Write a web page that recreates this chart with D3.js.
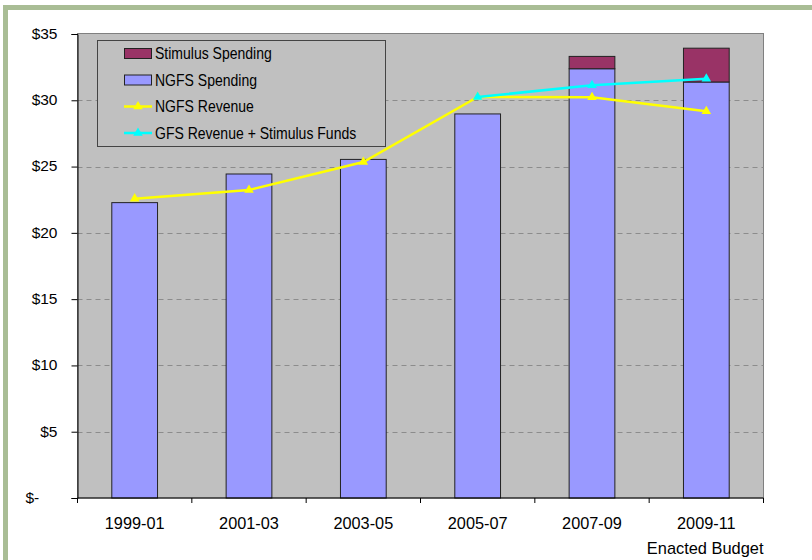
<!DOCTYPE html>
<html><head><meta charset="utf-8">
<script src="https://cdn.jsdelivr.net/npm/d3@7"></script>
<style>body{margin:0;background:#fff}svg{display:block}text{font-family:"Liberation Sans",Arial,sans-serif;fill:#000}</style>
</head><body>
<script>
const categories = ["1999-01","2001-03","2003-05","2005-07","2007-09","2009-11"];
const ngfsSpending = [22.28, 24.44, 25.54, 28.97, 32.38, 31.38];
const stimulusSpending = [0, 0, 0, 0, 0.93, 2.55];
const ngfsRevenue = [22.58, 23.23, 25.34, 30.25, 30.23, 29.17];
const gfsRevenueStimulus = [null, null, null, 30.25, 31.13, 31.63];
const yTicks = [0, 5, 10, 15, 20, 25, 30, 35];
const yTickLabels = ["$-", "$5", "$10", "$15", "$20", "$25", "$30", "$35"];
const legendLabels = ["Stimulus Spending", "NGFS Spending", "NGFS Revenue", "GFS Revenue + Stimulus Funds"];
const footnote = "Enacted Budget";

const W = 812, H = 560;
const plot = {l: 77.5, r: 763.5, t: 33.5, b: 498};
const svg = d3.select("body").append("svg").attr("width", W).attr("height", H);

// outer frame
svg.append("rect").attr("x", 5.5).attr("y", 7.5).attr("width", 1000).attr("height", 1000)
  .attr("fill", "#fff").attr("stroke", "#a9bd95").attr("stroke-width", 5);

const x = d3.scaleBand().domain(categories).range([plot.l, plot.r]).paddingInner(0.6).paddingOuter(0.3);
const y = d3.scaleLinear().domain([0, 35]).range([plot.b, 34]);

// plot background
svg.append("rect").attr("x", plot.l).attr("y", plot.t).attr("width", plot.r - plot.l).attr("height", plot.b - plot.t)
  .attr("fill", "#c0c0c0").attr("stroke", "#808080").attr("stroke-width", 1);

// gridlines
svg.append("g").selectAll("line").data(yTicks.filter(d => d > 0 && d < 35)).join("line")
  .attr("x1", plot.l).attr("x2", plot.r)
  .attr("y1", d => Math.round(y(d)) + 0.5).attr("y2", d => Math.round(y(d)) + 0.5)
  .attr("stroke", "#8c8c8c").attr("stroke-width", 1).attr("stroke-dasharray", "5,4");

// bars
const bw = x.bandwidth();
svg.append("g").selectAll("rect").data(categories).join("rect")
  .attr("x", d => x(d)).attr("width", bw)
  .attr("y", (d, i) => y(ngfsSpending[i])).attr("height", (d, i) => y(0) - y(ngfsSpending[i]))
  .attr("fill", "#9999ff").attr("stroke", "#222").attr("stroke-width", 1);
svg.append("g").selectAll("rect").data(categories.filter((d, i) => stimulusSpending[i] > 0)).join("rect")
  .attr("x", d => x(d)).attr("width", bw)
  .attr("y", d => { const i = categories.indexOf(d); return y(ngfsSpending[i] + stimulusSpending[i]); })
  .attr("height", d => { const i = categories.indexOf(d); return y(ngfsSpending[i]) - y(ngfsSpending[i] + stimulusSpending[i]); })
  .attr("fill", "#993366").attr("stroke", "#222").attr("stroke-width", 1);

// axes
const yAxis = d3.axisLeft(y).tickValues(yTicks).tickSize(6).tickFormat((d, i) => yTickLabels[i]);
const gy = svg.append("g").attr("transform", `translate(${plot.l},0)`).call(yAxis);
gy.select(".domain").attr("stroke", "#000");
gy.selectAll(".tick line").attr("stroke", "#000");
gy.selectAll(".tick text").attr("font-size", 15.5).attr("font-family", "Liberation Sans, Arial, sans-serif").attr("fill", "#000")
  .attr("x", -20).attr("dy", "0.28em")
  .attr("text-anchor", d => d === 0 ? "start" : "end")
  .attr("dx", d => d === 0 ? -32 : 0);

const gx = svg.append("g").attr("transform", `translate(0,${plot.b})`);
gx.append("line").attr("x1", plot.l).attr("x2", plot.r).attr("y1", 0).attr("y2", 0).attr("stroke", "#000");
const step = x.step();
const bounds = categories.map((d, i) => x(d) - x.paddingOuter() * step).concat([plot.r]);
gx.selectAll("line.t").data(bounds).join("line").attr("class", "t")
  .attr("x1", d => d).attr("x2", d => d).attr("y1", 0).attr("y2", 5).attr("stroke", "#000");
gx.selectAll("text").data(categories).join("text")
  .attr("x", d => x(d) + bw / 2).attr("y", 31).attr("text-anchor", "middle").attr("font-size", 16.3).text(d => d);
svg.append("text").attr("x", plot.r).attr("y", 554).attr("text-anchor", "end").attr("font-size", 16.4).text(footnote);

// lines
const cx = (d) => x(d) + bw / 2;
const tri = d3.symbol().type(d3.symbolTriangle).size(40);
function drawLine(vals, color) {
  const pts = categories.map((c, i) => [c, vals[i]]).filter(p => p[1] != null);
  svg.append("path").datum(pts)
    .attr("d", d3.line().x(p => cx(p[0])).y(p => y(p[1])))
    .attr("fill", "none").attr("stroke", color).attr("stroke-width", 2.5);
  svg.append("g").selectAll("path").data(pts).join("path")
    .attr("transform", p => `translate(${cx(p[0])},${y(p[1])})`).attr("d", tri).attr("fill", color);
}
drawLine(ngfsRevenue, "#ffff00");
drawLine(gfsRevenueStimulus, "#00ffff");

// legend
const lg = svg.append("g");
lg.append("rect").attr("x", 97.5).attr("y", 40.5).attr("width", 288).attr("height", 106)
  .attr("fill", "#c0c0c0").attr("stroke", "#444").attr("stroke-width", 1);
const rowsY = [53.5, 80, 106.5, 133];
const swFill = ["#993366", "#9999ff"];
legendLabels.forEach((t, i) => {
  const yy = rowsY[i];
  if (i < 2) {
    lg.append("rect").attr("x", 124.5).attr("y", yy - 5).attr("width", 27).attr("height", 10)
      .attr("fill", swFill[i]).attr("stroke", "#222").attr("stroke-width", 1);
  } else {
    const col = i === 2 ? "#ffff00" : "#00ffff";
    lg.append("line").attr("x1", 124).attr("x2", 152).attr("y1", yy).attr("y2", yy).attr("stroke", col).attr("stroke-width", 2.5);
    lg.append("path").attr("transform", `translate(138,${yy})`).attr("d", tri).attr("fill", col);
  }
  lg.append("text").attr("transform", `translate(155,${yy + 5.7}) scale(0.86,1)`).attr("font-size", 16.3).text(t);
});
</script>
</body></html>
